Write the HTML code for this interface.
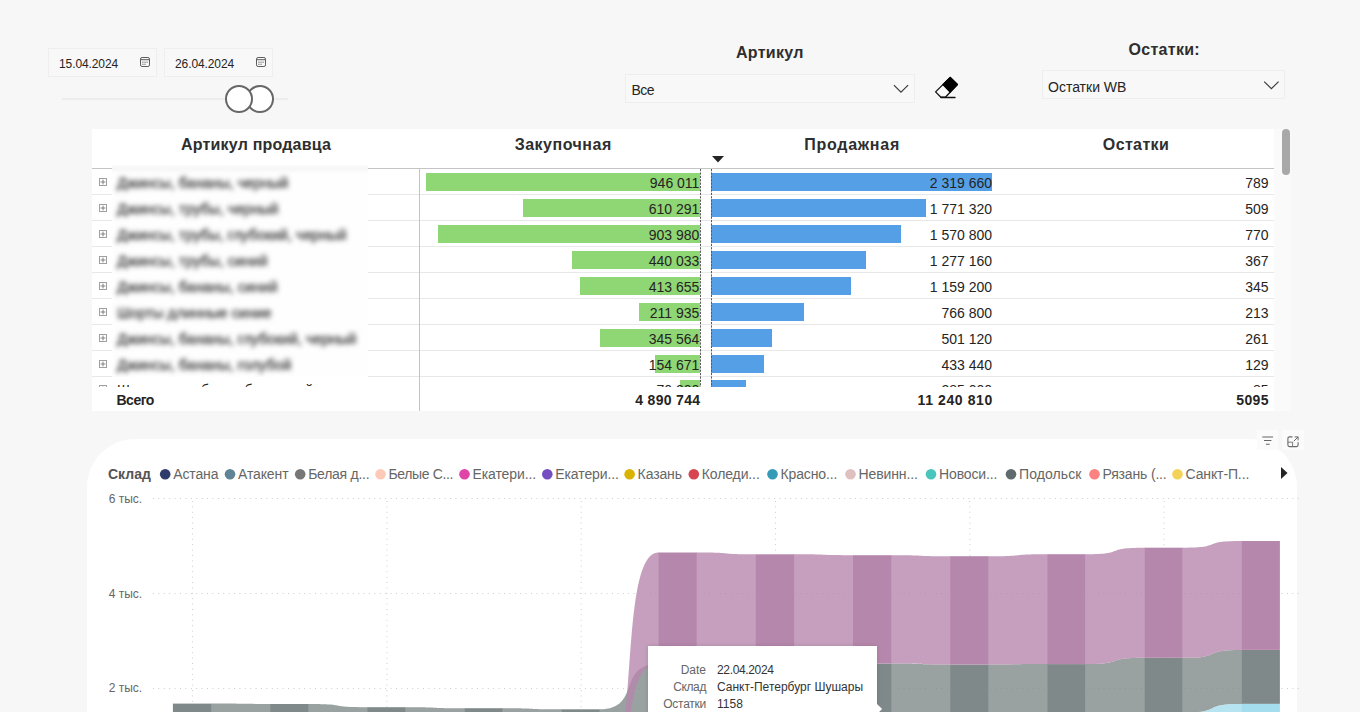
<!DOCTYPE html>
<html lang="ru">
<head>
<meta charset="utf-8">
<title>Остатки</title>
<style>
*{box-sizing:border-box;margin:0;padding:0}
html,body{width:1360px;height:712px;overflow:hidden;background:#f7f7f7;font-family:"Liberation Sans",sans-serif;color:#252423}
.abs{position:absolute}
.t{position:absolute;white-space:nowrap;line-height:1}
/* date slicer */
.datebox{position:absolute;top:48px;height:29px;border:1px solid #eeeeee;background:#f8f8f8}
.datebox span{position:absolute;left:10px;top:9px;font-size:12px;line-height:12px;color:#252423;letter-spacing:-0.1px}
.datebox svg{position:absolute;top:8px}
.track{position:absolute;left:62px;top:98px;width:226px;height:2px;background:#ededed}
.knob{position:absolute;top:85px;width:28px;height:28px;border-radius:50%;border:2px solid #676767;background:#fff}
/* dropdown slicers */
.ttl{position:absolute;font-weight:bold;font-size:16px;line-height:16px;color:#2e2e2e;white-space:nowrap}
.dd{position:absolute;border:1px solid #eeeeee;background:#f8f8f8}
.dd span{position:absolute;left:5px;font-size:14px;line-height:14px;color:#252423;white-space:nowrap}
/* table */
#tbl{position:absolute;left:92px;top:129px;width:1182px;height:282px;background:#fff;overflow:hidden}
#tbl .hd{position:absolute;top:8px;font-weight:bold;font-size:16px;line-height:16px;color:#2e2e2e;white-space:nowrap;transform:translateX(-50%)}
.hline{position:absolute;left:0;width:1182px;height:1px;background:#e8e8e8}
.row{position:absolute;left:0;width:1182px;height:26px}
.num{position:absolute;font-size:14px;line-height:14px;color:#252423;white-space:nowrap;text-align:right}
.gbar{position:absolute;height:18px;background:#8fd675}
.bbar{position:absolute;height:18px;background:#549fe6;left:620px}
.plus{position:absolute;left:7px}
.nm{position:absolute;font-size:14.6px;line-height:14px;color:#333;white-space:nowrap;-webkit-text-stroke:0.3px #333}
/* chart */
#card{position:absolute;left:87px;top:439px;width:1210px;height:300px;background:#fff;border-radius:48px 48px 0 0}
.lg{position:absolute;top:467px;font-size:14px;line-height:14px;color:#666;white-space:nowrap}
.dot{position:absolute;top:469px;width:10px;height:10px;border-radius:50%}
.yl{position:absolute;left:108.7px;font-size:12px;line-height:12px;color:#666;white-space:nowrap}
#tip{position:absolute;left:648px;top:646px;width:229px;height:80px;background:#fff;box-shadow:0 0 4px rgba(0,0,0,.14)}
#tip .k{position:absolute;right:171px;font-size:12px;line-height:12px;color:#666;white-space:nowrap}
#tip .v{position:absolute;left:69px;font-size:12px;line-height:12px;color:#333;white-space:nowrap}
</style>
</head>
<body>
<div id="page" style="position:absolute;left:0;top:0;width:1360px;height:712px;overflow:hidden">
<!-- DATE SLICER -->
<div class="datebox" style="left:48px;width:109px"><span>15.04.2024</span>
<svg style="left:91px" width="10" height="10" viewBox="0 0 10 10"><rect x="0.5" y="0.5" width="9" height="9" rx="1.6" fill="none" stroke="#5c5c5c" stroke-width="1"/><path d="M0.5 2.7 H9.5" stroke="#5c5c5c" stroke-width="1"/><rect x="2.3" y="4.6" width="1.2" height="1.2" fill="#777"/><rect x="4.4" y="4.6" width="1.2" height="1.2" fill="#777"/><rect x="6.5" y="4.6" width="1.2" height="1.2" fill="#777"/><rect x="2.3" y="6.7" width="1.2" height="1.2" fill="#777"/><rect x="4.4" y="6.7" width="1.2" height="1.2" fill="#777"/></svg></div>
<div class="datebox" style="left:164px;width:109px"><span>26.04.2024</span>
<svg style="left:91px" width="10" height="10" viewBox="0 0 10 10"><rect x="0.5" y="0.5" width="9" height="9" rx="1.6" fill="none" stroke="#5c5c5c" stroke-width="1"/><path d="M0.5 2.7 H9.5" stroke="#5c5c5c" stroke-width="1"/><rect x="2.3" y="4.6" width="1.2" height="1.2" fill="#777"/><rect x="4.4" y="4.6" width="1.2" height="1.2" fill="#777"/><rect x="6.5" y="4.6" width="1.2" height="1.2" fill="#777"/><rect x="2.3" y="6.7" width="1.2" height="1.2" fill="#777"/><rect x="4.4" y="6.7" width="1.2" height="1.2" fill="#777"/></svg></div>
<div class="track"></div>
<div class="knob" style="left:245.5px"></div>
<div class="knob" style="left:224.5px"></div>

<!-- ARTIKUL SLICER -->
<div class="ttl" style="left:736px;top:45px;letter-spacing:.3px">Артикул</div>
<div class="dd" style="left:625px;top:74px;width:290px;height:29px"><span style="top:8px;left:5.5px;letter-spacing:-0.5px">Все</span>
<svg class="abs" style="left:267px;top:9px" width="16" height="10" viewBox="0 0 16 10"><path d="M0.9 1.1 L8 8.2 L15.1 1.1" fill="none" stroke="#3a3a3a" stroke-width="1.15"/></svg></div>
<svg class="abs" style="left:933px;top:76px" width="27" height="24" viewBox="0 0 27 24"><path d="M2.6 15.9 L17.2 1.4 L24.4 8.5 L12.4 21.2 L7.9 21.2 Z" fill="#f9f9f9" stroke="#111" stroke-width="1.3" stroke-linejoin="round"/><path d="M9.9 8.6 L17.2 1.4 L24.4 8.5 L17.1 16.1 Z" fill="#000" stroke="#000" stroke-width="1.2" stroke-linejoin="round"/><path d="M7.9 21.5 H22" stroke="#111" stroke-width="1.4" stroke-linecap="round"/></svg>

<!-- OSTATKI SLICER -->
<div class="ttl" style="left:1128.5px;top:42px;letter-spacing:.3px">Остатки:</div>
<div class="dd" style="left:1042px;top:70px;width:243px;height:29px"><span style="top:9px">Остатки WB</span>
<svg class="abs" style="left:220px;top:9px" width="16" height="10" viewBox="0 0 16 10"><path d="M1.2 1.7 L8.4 8.7 L15.6 1.7" fill="none" stroke="#3a3a3a" stroke-width="1.15"/></svg></div>

<!-- TABLE -->
<div class="abs" style="left:1274px;top:129px;width:17px;height:282px;background:#fafafa"></div>
<div class="abs" style="left:1282px;top:129px;width:8px;height:46px;border-radius:4px;background:#a8a8a8"></div>
<div id="tbl">
<div class="hd" style="left:164.0px;letter-spacing:.19px">Артикул продавца</div>
<div class="hd" style="left:471.2px;letter-spacing:.5px">Закупочная</div>
<div class="hd" style="left:760.1px;letter-spacing:.74px">Продажная</div>
<div class="hd" style="left:1044.0px;letter-spacing:.36px">Остатки</div>
<svg class="abs" style="left:620px;top:27px" width="12" height="7" viewBox="0 0 12 7"><path d="M0 0 L12 0 L6 6.5 Z" fill="#252423"/></svg>
<div class="hline" style="top:39.0px;background:#c4c4c4;height:1px"></div>
<div class="abs" style="left:0;top:0;width:1182px;height:258px;overflow:hidden">
<div class="hline" style="top:65.0px"></div>
<div class="gbar" style="left:333.6px;top:44.0px;width:274.4px"></div>
<div class="bbar" style="left:619.0px;top:44.0px;width:281.0px"></div>
<div class="num" style="right:574.6px;top:47.0px">946 011</div>
<div class="num" style="right:282.0px;top:47.0px">2 319 660</div>
<div class="num" style="right:5.5px;top:47.0px">789</div>
<svg class="plus" style="top:49.0px" width="8" height="8" viewBox="0 0 8 8"><rect x=".5" y=".5" width="7" height="7" fill="#fff" stroke="#a0a0a0"/><path d="M1.6 4H6.4M4 1.6V6.4" stroke="#777" stroke-width="0.9" fill="none"/></svg>
<div class="hline" style="top:91.0px"></div>
<div class="gbar" style="left:431.0px;top:70.0px;width:177.0px"></div>
<div class="bbar" style="left:619.0px;top:70.0px;width:214.6px"></div>
<div class="num" style="right:574.6px;top:73.0px">610 291</div>
<div class="num" style="right:282.0px;top:73.0px">1 771 320</div>
<div class="num" style="right:5.5px;top:73.0px">509</div>
<svg class="plus" style="top:75.0px" width="8" height="8" viewBox="0 0 8 8"><rect x=".5" y=".5" width="7" height="7" fill="#fff" stroke="#a0a0a0"/><path d="M1.6 4H6.4M4 1.6V6.4" stroke="#777" stroke-width="0.9" fill="none"/></svg>
<div class="hline" style="top:117.0px"></div>
<div class="gbar" style="left:345.8px;top:96.0px;width:262.2px"></div>
<div class="bbar" style="left:619.0px;top:96.0px;width:190.3px"></div>
<div class="num" style="right:574.6px;top:99.0px">903 980</div>
<div class="num" style="right:282.0px;top:99.0px">1 570 800</div>
<div class="num" style="right:5.5px;top:99.0px">770</div>
<svg class="plus" style="top:101.0px" width="8" height="8" viewBox="0 0 8 8"><rect x=".5" y=".5" width="7" height="7" fill="#fff" stroke="#a0a0a0"/><path d="M1.6 4H6.4M4 1.6V6.4" stroke="#777" stroke-width="0.9" fill="none"/></svg>
<div class="hline" style="top:143.0px"></div>
<div class="gbar" style="left:480.4px;top:122.0px;width:127.6px"></div>
<div class="bbar" style="left:619.0px;top:122.0px;width:154.7px"></div>
<div class="num" style="right:574.6px;top:125.0px">440 033</div>
<div class="num" style="right:282.0px;top:125.0px">1 277 160</div>
<div class="num" style="right:5.5px;top:125.0px">367</div>
<svg class="plus" style="top:127.0px" width="8" height="8" viewBox="0 0 8 8"><rect x=".5" y=".5" width="7" height="7" fill="#fff" stroke="#a0a0a0"/><path d="M1.6 4H6.4M4 1.6V6.4" stroke="#777" stroke-width="0.9" fill="none"/></svg>
<div class="hline" style="top:169.0px"></div>
<div class="gbar" style="left:488.0px;top:148.0px;width:120.0px"></div>
<div class="bbar" style="left:619.0px;top:148.0px;width:140.4px"></div>
<div class="num" style="right:574.6px;top:151.0px">413 655</div>
<div class="num" style="right:282.0px;top:151.0px">1 159 200</div>
<div class="num" style="right:5.5px;top:151.0px">345</div>
<svg class="plus" style="top:153.0px" width="8" height="8" viewBox="0 0 8 8"><rect x=".5" y=".5" width="7" height="7" fill="#fff" stroke="#a0a0a0"/><path d="M1.6 4H6.4M4 1.6V6.4" stroke="#777" stroke-width="0.9" fill="none"/></svg>
<div class="hline" style="top:195.0px"></div>
<div class="gbar" style="left:546.5px;top:174.0px;width:61.5px"></div>
<div class="bbar" style="left:619.0px;top:174.0px;width:92.9px"></div>
<div class="num" style="right:574.6px;top:177.0px">211 935</div>
<div class="num" style="right:282.0px;top:177.0px">766 800</div>
<div class="num" style="right:5.5px;top:177.0px">213</div>
<svg class="plus" style="top:179.0px" width="8" height="8" viewBox="0 0 8 8"><rect x=".5" y=".5" width="7" height="7" fill="#fff" stroke="#a0a0a0"/><path d="M1.6 4H6.4M4 1.6V6.4" stroke="#777" stroke-width="0.9" fill="none"/></svg>
<div class="hline" style="top:221.0px"></div>
<div class="gbar" style="left:507.8px;top:200.0px;width:100.2px"></div>
<div class="bbar" style="left:619.0px;top:200.0px;width:60.7px"></div>
<div class="num" style="right:574.6px;top:203.0px">345 564</div>
<div class="num" style="right:282.0px;top:203.0px">501 120</div>
<div class="num" style="right:5.5px;top:203.0px">261</div>
<svg class="plus" style="top:205.0px" width="8" height="8" viewBox="0 0 8 8"><rect x=".5" y=".5" width="7" height="7" fill="#fff" stroke="#a0a0a0"/><path d="M1.6 4H6.4M4 1.6V6.4" stroke="#777" stroke-width="0.9" fill="none"/></svg>
<div class="hline" style="top:247.0px"></div>
<div class="gbar" style="left:563.1px;top:226.0px;width:44.9px"></div>
<div class="bbar" style="left:619.0px;top:226.0px;width:52.5px"></div>
<div class="num" style="right:574.6px;top:229.0px">154 671</div>
<div class="num" style="right:282.0px;top:229.0px">433 440</div>
<div class="num" style="right:5.5px;top:229.0px">129</div>
<svg class="plus" style="top:231.0px" width="8" height="8" viewBox="0 0 8 8"><rect x=".5" y=".5" width="7" height="7" fill="#fff" stroke="#a0a0a0"/><path d="M1.6 4H6.4M4 1.6V6.4" stroke="#777" stroke-width="0.9" fill="none"/></svg>
<div class="hline" style="top:273.0px"></div>
<div class="gbar" style="left:587.6px;top:251.4px;width:20.4px"></div>
<div class="bbar" style="left:619.0px;top:251.4px;width:34.5px"></div>
<div class="num" style="right:574.6px;top:254.4px">70 200</div>
<div class="num" style="right:282.0px;top:254.4px">285 000</div>
<div class="num" style="right:5.5px;top:254.4px">85</div>
<svg class="plus" style="top:256.4px" width="8" height="8" viewBox="0 0 8 8"><rect x=".5" y=".5" width="7" height="7" fill="#fff" stroke="#a0a0a0"/><path d="M1.6 4H6.4M4 1.6V6.4" stroke="#777" stroke-width="0.9" fill="none"/></svg>
<div class="nm" style="left:25.0px;top:254.4px;color:#252423;font-size:14px;-webkit-text-stroke:0">Шорты мужск</div>
<div class="nm" style="left:109.0px;top:254.4px;color:#252423;font-size:14px;-webkit-text-stroke:0">бермуды</div>
<div class="nm" style="left:152.5px;top:254.4px;color:#252423;font-size:14px;-webkit-text-stroke:0">белые</div>
<div class="nm" style="left:183.0px;top:254.4px;color:#252423;font-size:14px;-webkit-text-stroke:0">синий</div>
</div>
<div class="abs" style="left:20px;top:36px;width:256px;height:212px;overflow:hidden;background:#fefefe"><div class="abs" style="left:-20px;top:-20px;width:400px;height:300px;filter:blur(2.6px)"><div class="nm" style="left:25px;top:31.0px">Джинсы, бананы, черный</div><div class="nm" style="left:25px;top:57.0px">Джинсы, трубы, черный</div><div class="nm" style="left:25px;top:83.0px">Джинсы, трубы, глубокий, черный</div><div class="nm" style="left:25px;top:109.0px">Джинсы, трубы, синий</div><div class="nm" style="left:25px;top:135.0px">Джинсы, бананы, синий</div><div class="nm" style="left:25px;top:161.0px">Шорты длинные синие</div><div class="nm" style="left:25px;top:187.0px">Джинсы, бананы, глубокий, черный</div><div class="nm" style="left:25px;top:213.0px">Джинсы, бананы, голубой</div><div class="abs" style="left:0;top:23.0px;width:400px;height:1px;background:#d4d4d4"></div></div></div>
<div class="abs" style="left:327.0px;top:40.0px;width:1px;height:242.0px;background:#c4c4c4"></div>
<svg class="abs" style="left:608px;top:40px" width="14" height="218" viewBox="0 0 14 218"><path d="M0.5 0 V218 M11.5 0 V218" stroke="#5a5a5a" stroke-width="1" stroke-dasharray="2.2 1.2" fill="none"/></svg>
<div class="num" style="left:24.5px;top:264px;font-weight:bold;letter-spacing:-.5px">Всего</div>
<div class="num" style="right:573.7px;top:264px;font-weight:bold;letter-spacing:.3px">4 890 744</div>
<div class="num" style="right:281.2px;top:264px;font-weight:bold;letter-spacing:.6px">11 240 810</div>
<div class="num" style="right:5.0px;top:264px;font-weight:bold;letter-spacing:.4px">5095</div>
</div>

<!-- CHART -->
<div id="card"></div>
<div class="lg" style="left:108px;font-weight:bold;color:#555">Склад</div>
<div class="lg" style="left:173.2px;letter-spacing:-0.12px">Астана</div>
<div class="lg" style="left:238.0px;letter-spacing:-0.12px">Атакент</div>
<div class="lg" style="left:308.2px;letter-spacing:-0.27px">Белая д...</div>
<div class="lg" style="left:388.5px;letter-spacing:-0.36px">Белые С...</div>
<div class="lg" style="left:472.5px;letter-spacing:-0.10px">Екатери...</div>
<div class="lg" style="left:555.3px;letter-spacing:-0.10px">Екатери...</div>
<div class="lg" style="left:637.6px;letter-spacing:-0.12px">Казань</div>
<div class="lg" style="left:701.8px;letter-spacing:-0.12px">Коледи...</div>
<div class="lg" style="left:780.5px;letter-spacing:-0.12px">Красно...</div>
<div class="lg" style="left:858.5px;letter-spacing:-0.12px">Невинн...</div>
<div class="lg" style="left:939.0px;letter-spacing:-0.12px">Новоси...</div>
<div class="lg" style="left:1019.0px;letter-spacing:0.10px">Подольск</div>
<div class="lg" style="left:1102.5px;letter-spacing:-0.17px">Рязань (...</div>
<div class="lg" style="left:1185.5px;letter-spacing:-0.12px">Санкт-П...</div>
<svg class="abs" style="left:1281px;top:467px" width="7" height="12" viewBox="0 0 7 12"><path d="M0 0 L6.5 6 L0 12 Z" fill="#252423"/></svg>
<div class="abs" style="left:1257px;top:430px;width:21px;height:20px;background:#fbfbfb"></div>
<div class="abs" style="left:1282px;top:430px;width:22px;height:20px;background:#fbfbfb"></div>
<svg class="abs" style="left:1262px;top:435px" width="12" height="12" viewBox="0 0 12 12"><path d="M0.3 2 H11 M2 5.5 H9.4 M4 9.2 H7.7" stroke="#666" stroke-width="1.1" fill="none"/></svg>
<svg class="abs" style="left:1287px;top:436px" width="12" height="12" viewBox="0 0 12 12"><path d="M5.5 0.9 H2.4 Q0.9 0.9 0.9 2.4 V9.1 Q0.9 10.6 2.4 10.6 H9.6 Q11.1 10.6 11.1 9.1 V6.2" stroke="#6a6a6a" stroke-width="1.1" fill="none"/><path d="M0.9 6.2 H5.6 V10.6" stroke="#7a7a7a" stroke-width="1" fill="none"/><path d="M7.6 0.9 H11.1 V4.4 M11.1 0.9 L6.8 5.2" stroke="#6a6a6a" stroke-width="1" fill="none"/></svg>
<div class="yl" style="top:493.0px">6 тыс.</div>
<div class="yl" style="top:587.5px">4 тыс.</div>
<div class="yl" style="top:682.0px">2 тыс.</div>
<svg class="abs" style="left:0;top:0" width="1360" height="712" viewBox="0 0 1360 712">
<path d="M153 498.5 H1300" stroke="#cdcdcd" stroke-width="1" stroke-dasharray="1 4.4" fill="none"/>
<path d="M153 593.5 H1300" stroke="#cdcdcd" stroke-width="1" stroke-dasharray="1 4.4" fill="none"/>
<path d="M153 688.5 H1300" stroke="#cdcdcd" stroke-width="1" stroke-dasharray="1 4.4" fill="none"/>
<path d="M192.6 501 V712" stroke="#cdcdcd" stroke-width="1" stroke-dasharray="1 4.4" fill="none"/>
<path d="M386.9 501 V712" stroke="#cdcdcd" stroke-width="1" stroke-dasharray="1 4.4" fill="none"/>
<path d="M581.2 501 V712" stroke="#cdcdcd" stroke-width="1" stroke-dasharray="1 4.4" fill="none"/>
<path d="M775.5 501 V712" stroke="#cdcdcd" stroke-width="1" stroke-dasharray="1 4.4" fill="none"/>
<path d="M969.8 501 V712" stroke="#cdcdcd" stroke-width="1" stroke-dasharray="1 4.4" fill="none"/>
<path d="M1164.1 501 V712" stroke="#cdcdcd" stroke-width="1" stroke-dasharray="1 4.4" fill="none"/>
<path d="M210.85 703.6 L211.2 703.6 C253.6 703.6 227.7 704.0 270.1 704.0 L270.40 704.0 L270.40 782.0 L270.1 782.0 C227.7 782.0 253.6 782.0 211.2 782.0 L210.85 782.0 Z" fill="#7f898a" fill-opacity="0.8"/>
<path d="M308.00 704.0 L308.4 704.0 C350.7 704.0 324.8 707.2 367.2 707.2 L367.55 707.2 L367.55 782.0 L367.2 782.0 C324.8 782.0 350.7 782.0 308.4 782.0 L308.00 782.0 Z" fill="#7f898a" fill-opacity="0.8"/>
<path d="M405.15 707.2 L405.5 707.2 C447.9 707.2 422.0 708.2 464.4 708.2 L464.70 708.2 L464.70 782.0 L464.4 782.0 C422.0 782.0 447.9 782.0 405.5 782.0 L405.15 782.0 Z" fill="#7f898a" fill-opacity="0.8"/>
<path d="M502.30 708.2 L502.7 708.2 C545.0 708.2 519.1 709.3 561.5 709.3 L561.85 709.3 L561.85 782.0 L561.5 782.0 C519.1 782.0 545.0 782.0 502.7 782.0 L502.30 782.0 Z" fill="#7f898a" fill-opacity="0.8"/>
<path d="M599.45 709.3 L599.8 709.3 C642.2 709.3 616.3 664.0 658.6 664.0 L659.00 664.0 L659.00 782.0 L658.6 782.0 C616.3 782.0 642.2 782.0 599.8 782.0 L599.45 782.0 Z" fill="#7f898a" fill-opacity="0.8"/>
<path d="M696.60 664.0 L696.9 664.0 C739.3 664.0 713.4 664.0 755.8 664.0 L756.15 664.0 L756.15 782.0 L755.8 782.0 C713.4 782.0 739.3 782.0 696.9 782.0 L696.60 782.0 Z" fill="#7f898a" fill-opacity="0.8"/>
<path d="M793.75 664.0 L794.1 664.0 C836.5 664.0 810.6 663.5 853.0 663.5 L853.30 663.5 L853.30 782.0 L853.0 782.0 C810.6 782.0 836.5 782.0 794.1 782.0 L793.75 782.0 Z" fill="#7f898a" fill-opacity="0.8"/>
<path d="M890.90 663.5 L891.2 663.5 C933.6 663.5 907.7 664.5 950.1 664.5 L950.45 664.5 L950.45 782.0 L950.1 782.0 C907.7 782.0 933.6 782.0 891.2 782.0 L890.90 782.0 Z" fill="#7f898a" fill-opacity="0.8"/>
<path d="M988.05 664.5 L988.4 664.5 C1030.8 664.5 1004.9 664.1 1047.2 664.1 L1047.60 664.1 L1047.60 782.0 L1047.2 782.0 C1004.9 782.0 1030.8 782.0 988.4 782.0 L988.05 782.0 Z" fill="#7f898a" fill-opacity="0.8"/>
<path d="M1085.20 664.1 L1085.5 664.1 C1127.9 664.1 1102.0 657.8 1144.4 657.8 L1144.75 657.8 L1144.75 712.6 L1144.4 712.6 C1102.0 712.6 1127.9 782.0 1085.5 782.0 L1085.20 782.0 Z" fill="#7f898a" fill-opacity="0.8"/>
<path d="M1182.35 657.8 L1182.7 657.8 C1225.1 657.8 1199.2 649.9 1241.6 649.9 L1241.90 649.9 L1241.90 703.9 L1241.6 703.9 C1199.2 703.9 1225.1 712.6 1182.7 712.6 L1182.35 712.6 Z" fill="#7f898a" fill-opacity="0.8"/>
<rect x="172.9" y="703.6" width="38.3" height="78.4" fill="#7f898a"/>
<rect x="270.1" y="704.0" width="38.3" height="78.0" fill="#7f898a"/>
<rect x="367.2" y="707.2" width="38.3" height="74.8" fill="#7f898a"/>
<rect x="464.4" y="708.2" width="38.3" height="73.8" fill="#7f898a"/>
<rect x="561.5" y="709.3" width="38.3" height="72.7" fill="#7f898a"/>
<rect x="658.6" y="664.0" width="38.3" height="118.0" fill="#7f898a"/>
<rect x="755.8" y="664.0" width="38.3" height="118.0" fill="#7f898a"/>
<rect x="853.0" y="663.5" width="38.3" height="118.5" fill="#7f898a"/>
<rect x="950.1" y="664.5" width="38.3" height="117.5" fill="#7f898a"/>
<rect x="1047.2" y="664.1" width="38.3" height="117.9" fill="#7f898a"/>
<rect x="1144.4" y="657.8" width="38.3" height="54.8" fill="#7f898a"/>
<rect x="1241.6" y="649.9" width="38.3" height="54.0" fill="#7f898a"/>
<path d="M1085.20 782.0 L1085.5 782.0 C1127.9 782.0 1102.0 712.6 1144.4 712.6 L1144.75 712.6 L1144.75 782.0 L1144.4 782.0 C1102.0 782.0 1127.9 782.0 1085.5 782.0 L1085.20 782.0 Z" fill="#a4ddee" fill-opacity="0.8"/>
<path d="M1182.35 712.6 L1182.7 712.6 C1225.1 712.6 1199.2 703.9 1241.6 703.9 L1241.90 703.9 L1241.90 782.0 L1241.6 782.0 C1199.2 782.0 1225.1 782.0 1182.7 782.0 L1182.35 782.0 Z" fill="#a4ddee" fill-opacity="0.8"/>
<rect x="1144.4" y="712.6" width="38.3" height="69.4" fill="#a4ddee"/>
<rect x="1241.6" y="703.9" width="38.3" height="78.1" fill="#a4ddee"/>
<path d="M599.45 782.0 L599.8 782.0 C642.2 782.0 616.3 552.5 658.6 552.5 L659.00 552.5 L659.00 664.0 L658.6 664.0 C616.3 664.0 642.2 782.0 599.8 782.0 L599.45 782.0 Z" fill="#b687ac" fill-opacity="0.8"/>
<path d="M696.60 552.5 L696.9 552.5 C739.3 552.5 713.4 554.3 755.8 554.3 L756.15 554.3 L756.15 664.0 L755.8 664.0 C713.4 664.0 739.3 664.0 696.9 664.0 L696.60 664.0 Z" fill="#b687ac" fill-opacity="0.8"/>
<path d="M793.75 554.3 L794.1 554.3 C836.5 554.3 810.6 555.2 853.0 555.2 L853.30 555.2 L853.30 663.5 L853.0 663.5 C810.6 663.5 836.5 664.0 794.1 664.0 L793.75 664.0 Z" fill="#b687ac" fill-opacity="0.8"/>
<path d="M890.90 555.2 L891.2 555.2 C933.6 555.2 907.7 556.2 950.1 556.2 L950.45 556.2 L950.45 664.5 L950.1 664.5 C907.7 664.5 933.6 663.5 891.2 663.5 L890.90 663.5 Z" fill="#b687ac" fill-opacity="0.8"/>
<path d="M988.05 556.2 L988.4 556.2 C1030.8 556.2 1004.9 554.2 1047.2 554.2 L1047.60 554.2 L1047.60 664.1 L1047.2 664.1 C1004.9 664.1 1030.8 664.5 988.4 664.5 L988.05 664.5 Z" fill="#b687ac" fill-opacity="0.8"/>
<path d="M1085.20 554.2 L1085.5 554.2 C1127.9 554.2 1102.0 547.7 1144.4 547.7 L1144.75 547.7 L1144.75 657.8 L1144.4 657.8 C1102.0 657.8 1127.9 664.1 1085.5 664.1 L1085.20 664.1 Z" fill="#b687ac" fill-opacity="0.8"/>
<path d="M1182.35 547.7 L1182.7 547.7 C1225.1 547.7 1199.2 541.0 1241.6 541.0 L1241.90 541.0 L1241.90 649.9 L1241.6 649.9 C1199.2 649.9 1225.1 657.8 1182.7 657.8 L1182.35 657.8 Z" fill="#b687ac" fill-opacity="0.8"/>
<rect x="658.6" y="552.5" width="38.3" height="111.5" fill="#b687ac"/>
<rect x="755.8" y="554.3" width="38.3" height="109.7" fill="#b687ac"/>
<rect x="853.0" y="555.2" width="38.3" height="108.3" fill="#b687ac"/>
<rect x="950.1" y="556.2" width="38.3" height="108.3" fill="#b687ac"/>
<rect x="1047.2" y="554.2" width="38.3" height="109.9" fill="#b687ac"/>
<rect x="1144.4" y="547.7" width="38.3" height="110.1" fill="#b687ac"/>
<rect x="1241.6" y="541.0" width="38.3" height="108.9" fill="#b687ac"/>
<circle cx="165.2" cy="474.3" r="5.3" fill="#2f3b6b"/>
<circle cx="230.0" cy="474.3" r="5.3" fill="#5f8495"/>
<circle cx="300.2" cy="474.3" r="5.3" fill="#777777"/>
<circle cx="380.5" cy="474.3" r="5.3" fill="#ffc9b9"/>
<circle cx="464.5" cy="474.3" r="5.3" fill="#e044a7"/>
<circle cx="547.3" cy="474.3" r="5.3" fill="#744ec2"/>
<circle cx="629.6" cy="474.3" r="5.3" fill="#d9b300"/>
<circle cx="693.8" cy="474.3" r="5.3" fill="#d64550"/>
<circle cx="772.5" cy="474.3" r="5.3" fill="#3599b8"/>
<circle cx="850.5" cy="474.3" r="5.3" fill="#dfbfbf"/>
<circle cx="931.0" cy="474.3" r="5.3" fill="#4ac5bb"/>
<circle cx="1011.0" cy="474.3" r="5.3" fill="#5f6b6d"/>
<circle cx="1094.5" cy="474.3" r="5.3" fill="#fb8281"/>
<circle cx="1177.5" cy="474.3" r="5.3" fill="#f4d25a"/>
</svg>
<div id="tip"><div class="k" style="top:18px">Date</div><div class="v" style="top:18px;letter-spacing:-.35px">22.04.2024</div><div class="k" style="top:35px;letter-spacing:-.4px">Склад</div><div class="v" style="top:35px">Санкт-Петербург Шушары</div><div class="k" style="top:52px;letter-spacing:-.25px">Остатки</div><div class="v" style="top:52px">1158</div><div class="abs" style="left:222px;top:58px;width:10px;height:10px;background:#fff;transform:rotate(45deg)"></div></div>
</div>
</body>
</html>
